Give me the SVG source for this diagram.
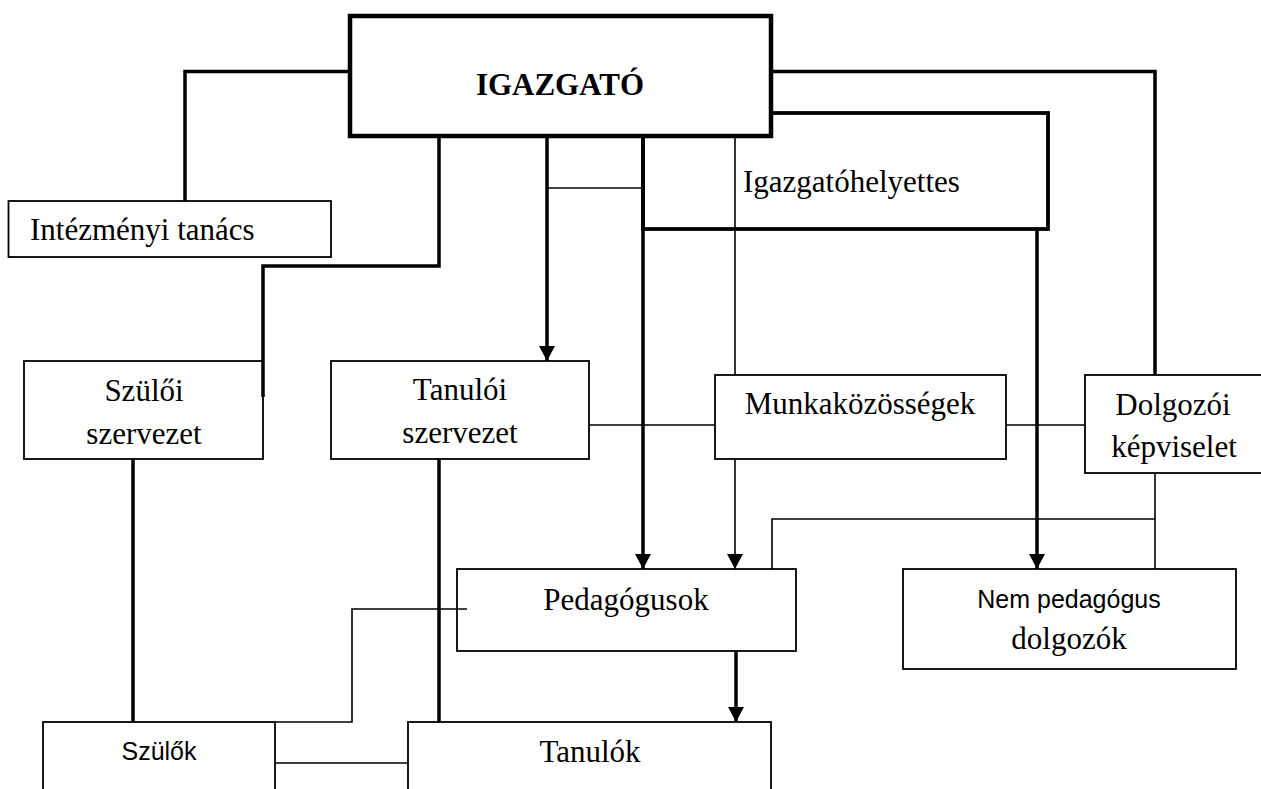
<svg xmlns="http://www.w3.org/2000/svg" width="1261" height="789" viewBox="0 0 1261 789">
<defs>
<style>
.box{fill:none;stroke:#000;stroke-width:1.8}
.thick{fill:none;stroke:#000;stroke-width:3.5}
.thin{fill:none;stroke:#000;stroke-width:1.6}
.t{font-family:"Liberation Serif","Times New Roman",serif;font-size:31px;fill:#000}
.s{font-family:"Liberation Sans",Arial,sans-serif;font-size:25px;fill:#000}
.c{text-anchor:middle}
</style>
<marker id="arr" markerUnits="userSpaceOnUse" markerWidth="16" markerHeight="16" refX="15" refY="8" orient="auto">
<path d="M0,0 L15,8 L0,16 Z" fill="#000"/>
</marker>
</defs>
<rect width="1261" height="789" fill="#fff"/>
<g id="igazgatohelyettes">
<rect x="643" y="113" width="405" height="116" fill="none" stroke="#000" stroke-width="3.8"/>
<text class="t" x="743" y="192">Igazgatóhelyettes</text>
</g>
<g id="connectors">
<path class="thick" d="M350,71.5 H185 V201"/>
<path class="thick" d="M439,136 V266 H263 V397"/>
<path class="thick" d="M547,136 V361" marker-end="url(#arr)"/>
<path class="thin" d="M547,188 H641"/>
<path class="thick" d="M643,136 V569" marker-end="url(#arr)"/>
<path class="thin" d="M735,136 V375"/>
<path class="thick" d="M771,71.5 H1155 V375"/>
<path class="thick" d="M1037,229 V569" marker-end="url(#arr)"/>
<path class="thin" d="M589,425 H715"/>
<path class="thin" d="M1006,425 H1085"/>
<path class="thin" d="M735,459 V569" marker-end="url(#arr)"/>
<path class="thin" d="M1155,473 V569"/>
<path class="thin" d="M1155,519 H772 V569"/>
<path class="thin" d="M467,609 H352 V722 H275"/>
<path class="thick" d="M736,651 V722" marker-end="url(#arr)"/>
<path class="thick" d="M133,459 V722"/>
<path class="thick" d="M439,459 V722"/>
<path class="thin" d="M275,763 H408"/>
</g>
<g id="igazgato">
<rect x="350" y="16" width="421" height="120" fill="#fff" stroke="#000" stroke-width="4.5"/>
<text class="t c" x="560" y="95" font-weight="bold">IGAZGATÓ</text>
</g>
<g id="intezmenyi-tanacs">
<rect class="box" x="8.5" y="201" width="322.5" height="56"/>
<text class="t" x="30" y="240">Intézményi tanács</text>
</g>
<g id="szuloi-szervezet">
<rect class="box" x="24" y="361" width="239" height="98"/>
<text class="t c" x="144" y="401">Szülői</text>
<text class="t c" x="144" y="444">szervezet</text>
</g>
<g id="tanuloi-szervezet">
<rect class="box" x="331" y="361" width="258" height="98"/>
<text class="t c" x="460" y="400">Tanulói</text>
<text class="t c" x="460" y="443">szervezet</text>
</g>
<g id="munkakozossegek">
<rect class="box" x="715" y="375" width="291" height="84"/>
<text class="t c" x="860" y="414">Munkaközösségek</text>
</g>
<g id="dolgozoi-kepviselet">
<rect class="box" x="1085" y="375" width="190" height="98"/>
<text class="t c" x="1173" y="415">Dolgozói</text>
<text class="t c" x="1174" y="457">képviselet</text>
</g>
<g id="pedagogusok">
<rect class="box" x="457" y="569" width="339" height="82"/>
<text class="t c" x="626" y="610">Pedagógusok</text>
</g>
<g id="nem-pedagogus">
<rect class="box" x="903" y="569" width="333" height="100"/>
<text class="s c" x="1069" y="608" font-size="26">Nem pedagógus</text>
<text class="t c" x="1069" y="649">dolgozók</text>
</g>
<g id="szulok">
<rect class="box" x="43" y="722" width="232" height="80"/>
<text class="s c" x="159" y="760">Szülők</text>
</g>
<g id="tanulok">
<rect class="box" x="408" y="722" width="363" height="80"/>
<text class="t c" x="590" y="762">Tanulók</text>
</g>
</svg>
